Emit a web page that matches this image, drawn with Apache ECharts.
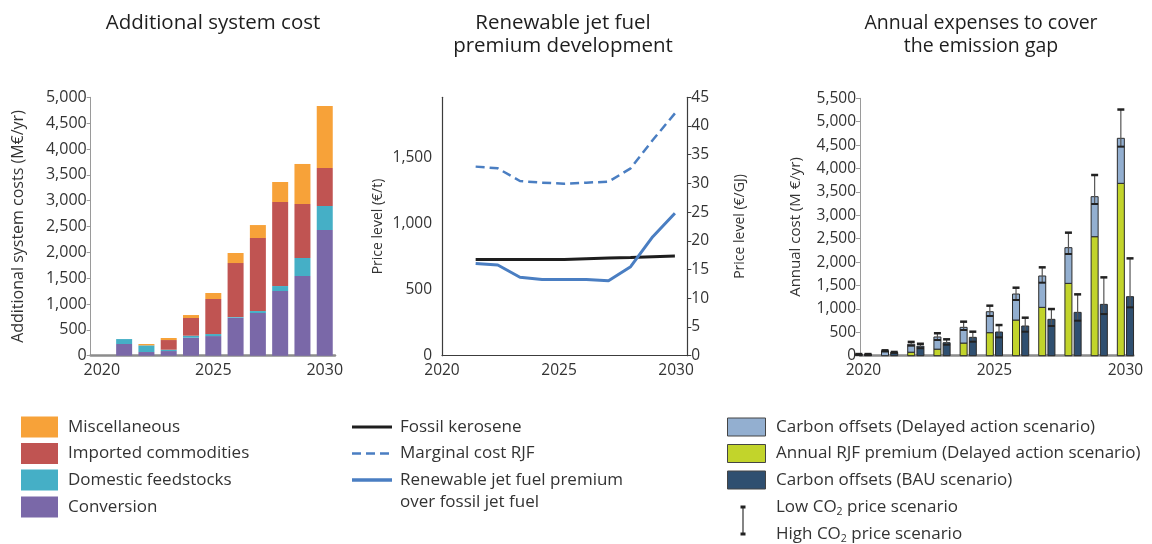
<!DOCTYPE html>
<html>
<head>
<meta charset="utf-8">
<script src="https://cdn.jsdelivr.net/npm/echarts@6/dist/echarts.min.js"></script>
<style>
  html, body { margin: 0; padding: 0; background: #ffffff; }
  #chart { width: 1152px; height: 544px; }
</style>
</head>
<body>
<div id="chart"></div>
<script>
// ---- Additional system cost (M€/yr), stacked by component ----
const costYears = [2021, 2022, 2023, 2024, 2025, 2026, 2027, 2028, 2029, 2030];
const conversion          = [226,  71,  90, 348, 380,  735,  826, 1252, 1542, 2432];
const domesticFeedstocks  = [ 96, 129,  26,  39,  39,   13,   38,   96,  348,  465];
const importedCommodities = [  0,   0, 187, 342, 678, 1045, 1413, 1626, 1045,  735];
const miscellaneous       = [  0,  26,  39,  58, 116,  194,  251,  387,  775, 1200];

// ---- Renewable jet fuel price development (€/t) ----
const priceYears = [2021, 2022, 2023, 2024, 2025, 2026, 2027, 2028, 2029, 2030];
const fossilKerosene  = [728, 728, 728, 728, 728, 733, 738, 743, 749, 754];
const marginalCostRJF = [1430, 1417, 1321, 1309, 1301, 1309, 1316, 1417, 1631, 1833];
const rjfPremium      = [698, 686, 593, 577, 577, 577, 567, 673, 900, 1077];
const GJ_PER_T = 43.43;          // energy content used for the €/GJ scale
const GJ_AXIS_MAX = 45;

// ---- Annual expenses to cover the emission gap (M€/yr) ----
const gapYears = [2020, 2021, 2022, 2023, 2024, 2025, 2026, 2027, 2028, 2029, 2030];
const annualRJFPremiumDelayed = [0, 0, 75, 140, 270, 492, 762, 1033, 1546, 2543, 3683];
const carbonOffsetsDelayed    = [28, 105, 170, 260, 336, 448, 556, 670, 762, 855, 962];
const delayedLowCO2           = [20, 90, 214, 335, 549, 848, 1190, 1560, 2173, 3241, 4467];
const delayedHighCO2          = [35, 115, 295, 480, 727, 1069, 1453, 1888, 2629, 3861, 5260];
const carbonOffsetsBAU        = [28, 70, 205, 278, 392, 506, 634, 777, 926, 1097, 1261];
const bauLowCO2               = [20, 60, 160, 235, 299, 392, 513, 634, 748, 890, 1033];
const bauHighCO2              = [35, 80, 255, 350, 513, 655, 812, 997, 1311, 1674, 2080];

const yearTicks = [2020, 2025, 2030];

// ---- styling ----
const FONT = '"Open Sans", "Noto Sans", sans-serif';
const TEXT = '#333333';
const COLORS = {
  misc: '#F7A239',
  imported: '#C05452',
  domestic: '#45AFC6',
  conversion: '#7A68A8',
  fossil: '#1e1e1e',
  rjf: '#4A7EC2',
  offsetsDelayed: '#93AFD0',
  premiumDelayed: '#C2D42B',
  offsetsBAU: '#2F4F70',
  outline: '#2b2b2b'
};
const fmt = v => Math.round(v).toLocaleString('en-US');
const tickLabel = size => ({ color: TEXT, fontSize: size, fontFamily: FONT });
const axisName = size => ({ color: TEXT, fontSize: size, fontFamily: FONT });

// ---- stacked cost bars: each component drawn from the running total below it ----
const COST_BAR_W = 16;
const costComponents = [
  ['Conversion', conversion, COLORS.conversion],
  ['Domestic feedstocks', domesticFeedstocks, COLORS.domestic],
  ['Imported commodities', importedCommodities, COLORS.imported],
  ['Miscellaneous', miscellaneous, COLORS.misc]
];
function renderCostSegment(params, api) {
  const yr = api.value(0), lo = api.value(1), hi = api.value(2);
  if (hi <= lo) return null;
  const pTop = api.coord([yr, hi]), pBot = api.coord([yr, lo]);
  return { type: 'rect',
    shape: { x: pTop[0] - COST_BAR_W / 2, y: pTop[1], width: COST_BAR_W, height: pBot[1] - pTop[1] },
    style: { fill: api.visual('color') } };
}
const runningBase = costYears.map(() => 0);
const costSeries = costComponents.map(([name, values, color]) => {
  const data = costYears.map((y, i) => {
    const item = [y, runningBase[i], runningBase[i] + values[i]];
    runningBase[i] += values[i];
    return item;
  });
  return { type: 'custom', name, xAxisIndex: 0, yAxisIndex: 0, renderItem: renderCostSegment,
    itemStyle: { color }, encode: { x: 0, y: [1, 2] }, data };
});

// ---- error-bar group renderer for the emission-gap chart ----
const BAR_W = 7, BAR_OFF = 4.6, CAP_W = 7;
function renderGapGroup(params, api) {
  const yr = api.value(0);
  const origin = api.coord([yr, 0]);
  const yOf = v => api.coord([yr, v])[1];
  const children = [];
  function addBar(cx, segments, low, high) {
    const left = cx - BAR_W / 2;
    let acc = 0;
    segments.forEach(([val, color]) => {
      if (val <= 0) return;
      const yTop = yOf(acc + val), yBot = yOf(acc);
      children.push({ type: 'rect', shape: { x: left, y: yTop, width: BAR_W, height: yBot - yTop },
        style: { fill: color, stroke: COLORS.outline, lineWidth: 1 } });
      acc += val;
    });
    const yLow = yOf(low), yHigh = yOf(high);
    children.push({ type: 'line', shape: { x1: cx, y1: yLow, x2: cx, y2: yHigh },
      style: { stroke: '#555555', lineWidth: 1.2 } });
    children.push({ type: 'line', shape: { x1: left, y1: yLow, x2: left + BAR_W, y2: yLow },
      style: { stroke: '#222222', lineWidth: 2 } });
    children.push({ type: 'line', shape: { x1: cx - CAP_W / 2, y1: yHigh, x2: cx + CAP_W / 2, y2: yHigh },
      style: { stroke: '#222222', lineWidth: 2.5 } });
  }
  addBar(origin[0] - BAR_OFF,
    [[api.value(1), COLORS.premiumDelayed], [api.value(2), COLORS.offsetsDelayed]],
    api.value(3), api.value(4));
  addBar(origin[0] + BAR_OFF, [[api.value(5), COLORS.offsetsBAU]], api.value(6), api.value(7));
  return { type: 'group', children };
}

// ---- titles and legends ----
function titleText(x, y, text, size) {
  return { type: 'text', x, y, style: { text, align: 'center', verticalAlign: 'top',
    fontSize: size, lineHeight: 23, fontFamily: FONT, fill: '#1e1e1e' } };
}
const LEGEND_FONT = 17;
function legendLabel(x, y, text, rich) {
  const style = { text, x: 0, y: 0, align: 'left', verticalAlign: 'middle',
    fontSize: LEGEND_FONT, lineHeight: 22, fontFamily: FONT, fill: TEXT };
  if (rich) style.rich = rich;
  return { type: 'text', x, y, style };
}
const ROW = [427, 453.5, 480, 507, 534];
const graphics = [
  titleText(213, 12, 'Additional system cost', 20.5),
  titleText(563, 12, 'Renewable jet fuel\npremium development', 20.5),
  titleText(981, 12, 'Annual expenses to cover\nthe emission gap', 19.5)
];
// component legend
[['Miscellaneous', COLORS.misc], ['Imported commodities', COLORS.imported],
 ['Domestic feedstocks', COLORS.domestic], ['Conversion', COLORS.conversion]].forEach(([name, color], i) => {
  graphics.push({ type: 'rect', shape: { x: 21, y: ROW[i] - 10.5, width: 37, height: 21 }, style: { fill: color } });
  graphics.push(legendLabel(68, ROW[i], name));
});
// price legend
graphics.push({ type: 'line', shape: { x1: 352, y1: ROW[0], x2: 392, y2: ROW[0] }, style: { stroke: COLORS.fossil, lineWidth: 3 } });
graphics.push(legendLabel(400, ROW[0], 'Fossil kerosene'));
graphics.push({ type: 'line', shape: { x1: 352, y1: ROW[1], x2: 392, y2: ROW[1] }, style: { stroke: COLORS.rjf, lineWidth: 2.5, lineDash: [9, 5] } });
graphics.push(legendLabel(400, ROW[1], 'Marginal cost RJF'));
graphics.push({ type: 'line', shape: { x1: 352, y1: ROW[2], x2: 392, y2: ROW[2] }, style: { stroke: COLORS.rjf, lineWidth: 3.5 } });
graphics.push(legendLabel(400, ROW[2], 'Renewable jet fuel premium'));
graphics.push(legendLabel(400, ROW[2] + 22, 'over fossil jet fuel'));
// emission gap legend
[['Carbon offsets (Delayed action scenario)', COLORS.offsetsDelayed],
 ['Annual RJF premium (Delayed action scenario)', COLORS.premiumDelayed],
 ['Carbon offsets (BAU scenario)', COLORS.offsetsBAU]].forEach(([name, color], i) => {
  graphics.push({ type: 'rect', shape: { x: 727.5, y: ROW[i] - 9, width: 38, height: 18 },
    style: { fill: color, stroke: '#444444', lineWidth: 1 } });
  graphics.push(legendLabel(776, ROW[i], name));
});
graphics.push({ type: 'line', shape: { x1: 743, y1: ROW[3], x2: 743, y2: ROW[4] }, style: { stroke: '#333333', lineWidth: 1.2 } });
graphics.push({ type: 'line', shape: { x1: 740.5, y1: ROW[3], x2: 745.5, y2: ROW[3] }, style: { stroke: '#222222', lineWidth: 3 } });
graphics.push({ type: 'line', shape: { x1: 740.5, y1: ROW[4], x2: 745.5, y2: ROW[4] }, style: { stroke: '#222222', lineWidth: 3 } });
const subRich = { sub: { fontSize: 10.5, lineHeight: 22, verticalAlign: 'bottom', fontFamily: FONT, fill: TEXT } };
graphics.push(legendLabel(776, ROW[3], 'Low CO{sub|2} price scenario', subRich));
graphics.push(legendLabel(776, ROW[4], 'High CO{sub|2} price scenario', subRich));

const chart = echarts.init(document.getElementById('chart'), null, { renderer: 'canvas' });
chart.setOption({
  animation: false,
  backgroundColor: '#ffffff',
  textStyle: { fontFamily: FONT },
  grid: [
    { left: 90.7, top: 97.3, width: 244.3, height: 258.4 },   // system cost
    { left: 442, top: 97.3, width: 245.3, height: 258.4 },    // price lines
    { left: 442, top: 97.3, width: 245.3, height: 258.4 },    // price year labels
    { left: 860, top: 98.3, width: 273.3, height: 257.4 }     // emission gap
  ],
  xAxis: [
    { type: 'value', gridIndex: 0, min: 2019.5, max: 2030.46,
      axisLine: { show: true, onZero: false, lineStyle: { color: '#8c8c8c', width: 2.5 } },
      axisTick: { show: false }, splitLine: { show: false },
      axisLabel: Object.assign({ customValues: yearTicks, margin: 7, formatter: v => String(v) }, tickLabel(16)) },
    { type: 'value', gridIndex: 1, min: 2019.48, max: 2030.56, show: false, splitLine: { show: false } },
    { type: 'value', gridIndex: 2, min: 2020, max: 2030.48,
      axisLine: { show: true, onZero: false, lineStyle: { color: '#3c3c3c', width: 1.2 } },
      axisTick: { show: false }, splitLine: { show: false },
      axisLabel: Object.assign({ customValues: yearTicks, margin: 7, formatter: v => String(v) }, tickLabel(15.5)) },
    { type: 'value', gridIndex: 3, min: 2019.87, max: 2030.3,
      axisLine: { show: true, onZero: false, lineStyle: { color: '#8c8c8c', width: 2.5 } },
      axisTick: { show: false }, splitLine: { show: false },
      axisLabel: Object.assign({ customValues: yearTicks, margin: 7, formatter: v => String(v) }, tickLabel(15.5)) }
  ],
  yAxis: [
    { type: 'value', gridIndex: 0, min: 0, max: 5000, interval: 500,
      name: 'Additional system costs (M€/yr)', nameLocation: 'middle', nameGap: 64, nameTextStyle: axisName(16),
      axisLine: { show: true, lineStyle: { color: '#9a9a9a', width: 1 } },
      axisTick: { show: true, length: 4, lineStyle: { color: '#9a9a9a' } },
      splitLine: { show: false },
      axisLabel: Object.assign({ formatter: fmt, margin: 4 }, tickLabel(16)) },
    { type: 'value', gridIndex: 1, min: 0, max: GJ_AXIS_MAX * GJ_PER_T, interval: 500, position: 'left',
      name: 'Price level (€/t)', nameLocation: 'middle', nameGap: 57, nameTextStyle: axisName(14),
      axisLine: { show: true, lineStyle: { color: '#3c3c3c', width: 1.2 } },
      axisTick: { show: false }, splitLine: { show: false },
      axisLabel: Object.assign({ formatter: v => (Math.abs(v % 500) < 1e-6 ? fmt(v) : ''), margin: 10 }, tickLabel(15.5)) },
    { type: 'value', gridIndex: 1, min: 0, max: GJ_AXIS_MAX, interval: 5, position: 'right',
      name: 'Price level (€/GJ)', nameLocation: 'middle', nameGap: 46, nameTextStyle: axisName(14),
      axisLine: { show: true, lineStyle: { color: '#3c3c3c', width: 1.2 } },
      axisTick: { show: true, length: 4, lineStyle: { color: '#3c3c3c' } },
      splitLine: { show: false },
      axisLabel: Object.assign({ margin: 4 }, tickLabel(15.5)) },
    { type: 'value', gridIndex: 2, min: 0, max: 1, show: false, splitLine: { show: false } },
    { type: 'value', gridIndex: 3, min: 0, max: 5500, interval: 500,
      name: 'Annual cost (M €/yr)', nameLocation: 'middle', nameGap: 57, nameTextStyle: axisName(15),
      axisLine: { show: true, lineStyle: { color: '#9a9a9a', width: 1 } },
      axisTick: { show: true, length: 4, lineStyle: { color: '#9a9a9a' } },
      splitLine: { show: false },
      axisLabel: Object.assign({ formatter: fmt, margin: 4 }, tickLabel(15.5)) }
  ],
  series: costSeries.concat([
    { type: 'line', name: 'Fossil kerosene', xAxisIndex: 1, yAxisIndex: 1, symbol: 'none',
      lineStyle: { color: COLORS.fossil, width: 3 }, data: priceYears.map((y, i) => [y, fossilKerosene[i]]) },
    { type: 'line', name: 'Marginal cost RJF', xAxisIndex: 1, yAxisIndex: 1, symbol: 'none',
      lineStyle: { color: COLORS.rjf, width: 2.5, type: [9, 5] }, data: priceYears.map((y, i) => [y, marginalCostRJF[i]]) },
    { type: 'line', name: 'Renewable jet fuel premium over fossil jet fuel', xAxisIndex: 1, yAxisIndex: 1, symbol: 'none',
      lineStyle: { color: COLORS.rjf, width: 3 }, data: priceYears.map((y, i) => [y, rjfPremium[i]]) },

    { type: 'custom', name: 'Annual expenses', xAxisIndex: 3, yAxisIndex: 4,
      renderItem: renderGapGroup, encode: { x: 0, y: 4 },
      data: gapYears.map((y, i) => [y, annualRJFPremiumDelayed[i], carbonOffsetsDelayed[i],
        delayedLowCO2[i], delayedHighCO2[i], carbonOffsetsBAU[i], bauLowCO2[i], bauHighCO2[i]]) }
  ]),
  graphic: graphics
});
</script>
</body>
</html>
